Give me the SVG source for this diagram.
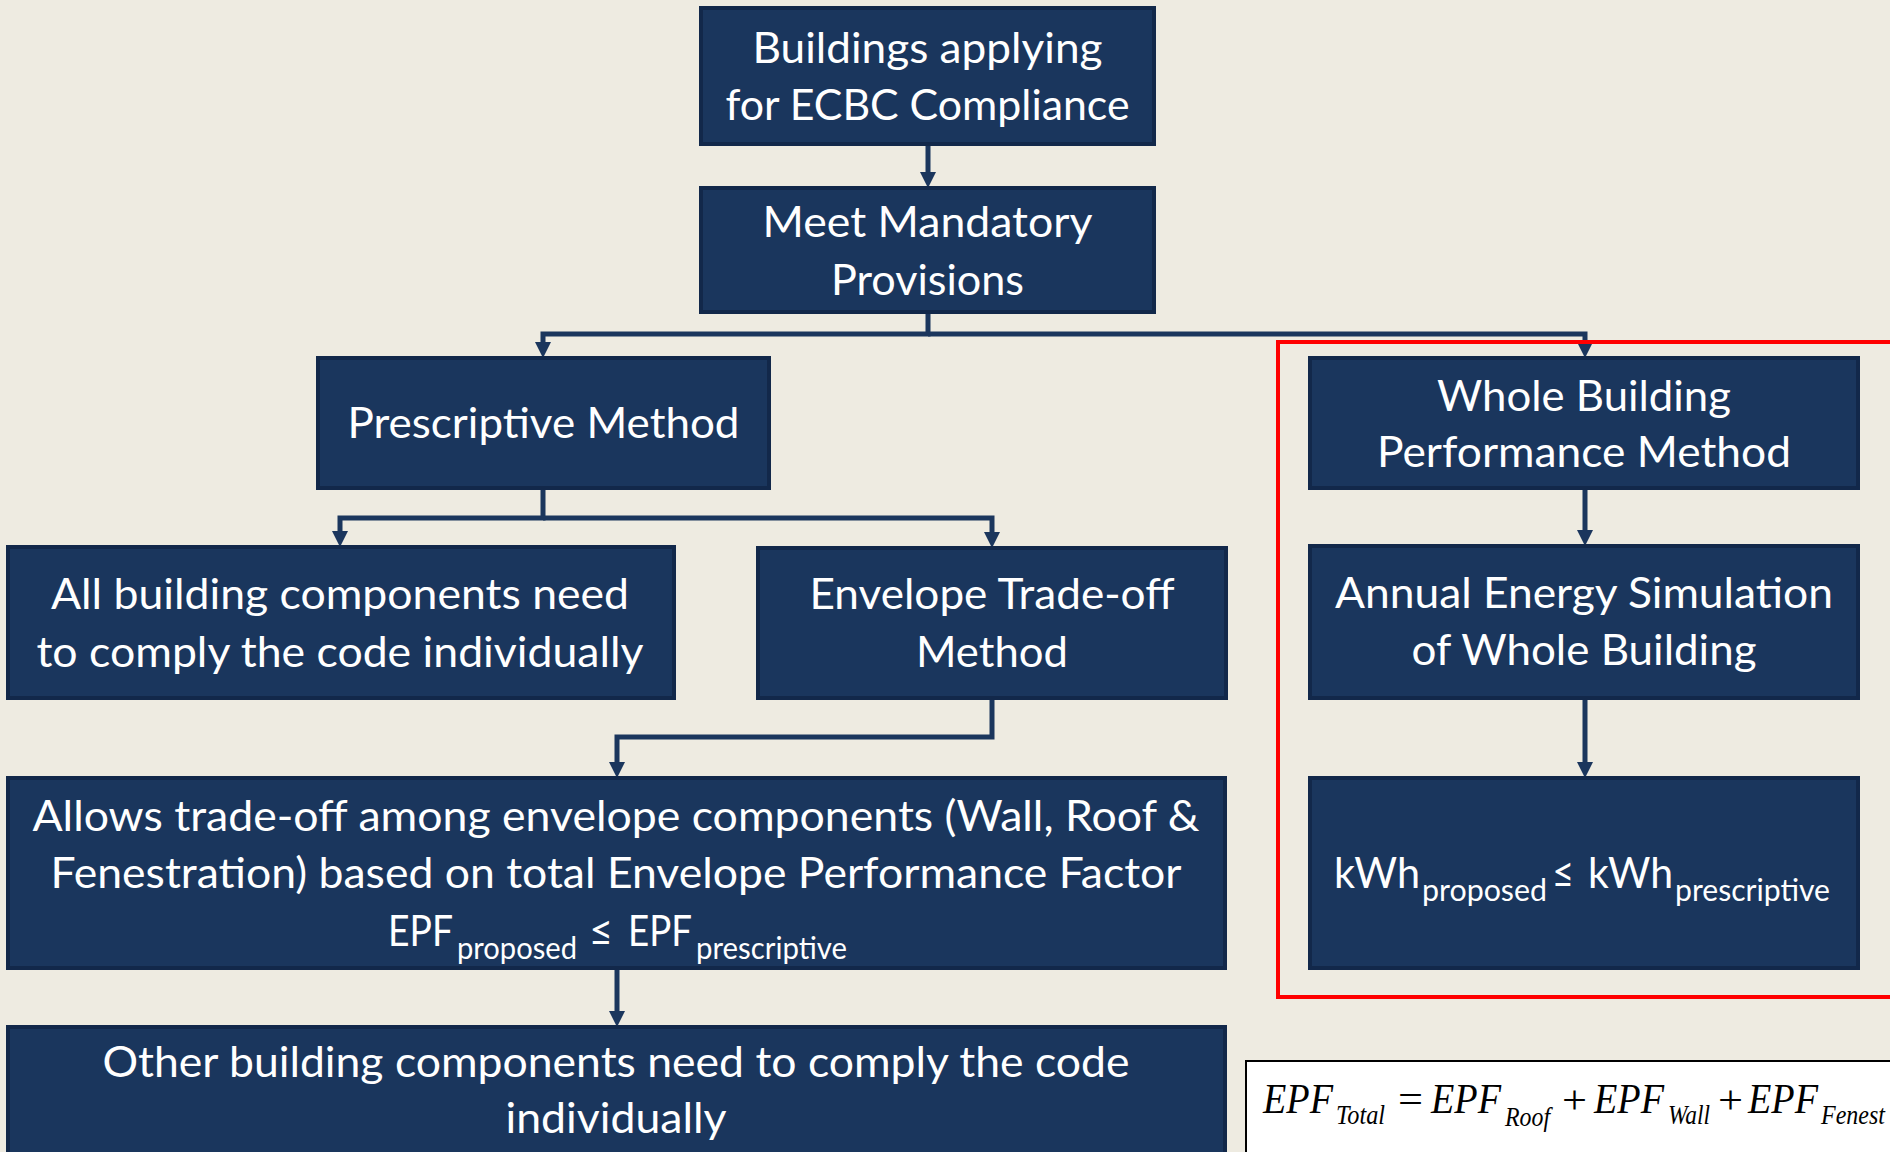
<svg xmlns="http://www.w3.org/2000/svg" width="1890" height="1152" viewBox="0 0 1890 1152">
<defs>
<style>
.box{fill:#1a365d;stroke:#12284a;stroke-width:4}
.t{fill:#ffffff;font-family:Lato,"Open Sans",sans-serif;font-size:43px;text-anchor:middle}
.s{fill:#ffffff;font-family:Lato,"Open Sans",sans-serif;font-size:43px}
.sub{fill:#ffffff;font-family:Lato,"Open Sans",sans-serif;font-size:31px}
.c{fill:none;stroke:#1b365d;stroke-width:5;marker-end:url(#ah)}
.f{font-family:"Liberation Serif","Times New Roman",serif;font-style:italic;font-size:42px;fill:#000}
.fs{font-family:"Liberation Serif","Times New Roman",serif;font-style:italic;font-size:27px;fill:#000}
.fo{font-family:"Liberation Serif","Times New Roman",serif;font-size:40px;fill:#000}
</style>
<marker id="ah" viewBox="0 0 16 16" markerWidth="16" markerHeight="16" markerUnits="userSpaceOnUse" refX="0" refY="8" orient="auto">
<path d="M0,0 L16,8 L0,16 z" fill="#1b365d"/>
</marker>
</defs>
<rect x="0" y="0" width="1890" height="1152" fill="#eeebe1"/>

<g id="connectors">
<path class="c" d="M928,144 L928,172"/>
<path class="c" d="M928,312 L928,334 L543,334 L543,342"/>
<path class="c" d="M928,334 L1585,334 L1585,342"/>
<path class="c" d="M543,488 L543,518 L340,518 L340,531"/>
<path class="c" d="M543,518 L992,518 L992,532"/>
<path class="c" d="M992,698 L992,737 L617,737 L617,762"/>
<path class="c" d="M617,968 L617,1011"/>
<path class="c" d="M1585,488 L1585,530"/>
<path class="c" d="M1585,698 L1585,762"/>
</g>

<g id="n-buildings">
<rect class="box" x="701" y="8" width="453" height="136"/>
<text class="t" x="927.5" y="63" textLength="350" lengthAdjust="spacingAndGlyphs">Buildings applying</text>
<text class="t" x="927.5" y="120" textLength="404" lengthAdjust="spacingAndGlyphs">for ECBC Compliance</text>
</g>
<g id="n-mandatory">
<rect class="box" x="701" y="188" width="453" height="124"/>
<text class="t" x="927.5" y="237" textLength="330" lengthAdjust="spacingAndGlyphs">Meet Mandatory</text>
<text class="t" x="927.5" y="295" textLength="193" lengthAdjust="spacingAndGlyphs">Provisions</text>
</g>
<g id="n-prescriptive">
<rect class="box" x="318" y="358" width="451" height="130"/>
<text class="t" x="543.5" y="438" textLength="392" lengthAdjust="spacingAndGlyphs">Prescriptive Method</text>
</g>
<g id="n-whole">
<rect class="box" x="1310" y="358" width="548" height="130"/>
<text class="t" x="1584" y="411" textLength="294" lengthAdjust="spacingAndGlyphs">Whole Building</text>
<text class="t" x="1584" y="467" textLength="414" lengthAdjust="spacingAndGlyphs">Performance Method</text>
</g>
<g id="n-all">
<rect class="box" x="8" y="547" width="666" height="151"/>
<text class="t" x="340" y="609" textLength="578" lengthAdjust="spacingAndGlyphs">All building components need</text>
<text class="t" x="340" y="667" textLength="607" lengthAdjust="spacingAndGlyphs">to comply the code individually</text>
</g>
<g id="n-envelope">
<rect class="box" x="758" y="548" width="468" height="150"/>
<text class="t" x="992" y="609" textLength="365" lengthAdjust="spacingAndGlyphs">Envelope Trade-off</text>
<text class="t" x="992" y="667" textLength="152" lengthAdjust="spacingAndGlyphs">Method</text>
</g>
<g id="n-annual">
<rect class="box" x="1310" y="546" width="548" height="152"/>
<text class="t" x="1584" y="608" textLength="498" lengthAdjust="spacingAndGlyphs">Annual Energy Simulation</text>
<text class="t" x="1584" y="665" textLength="345" lengthAdjust="spacingAndGlyphs">of Whole Building</text>
</g>
<g id="n-allows">
<rect class="box" x="8" y="778" width="1217" height="190"/>
<text class="t" x="616" y="831" textLength="1167" lengthAdjust="spacingAndGlyphs">Allows trade-off among envelope components (Wall, Roof &amp;</text>
<text class="t" x="616" y="888" textLength="1131" lengthAdjust="spacingAndGlyphs">Fenestration) based on total Envelope Performance Factor</text>
<text class="s" x="388" y="946" textLength="65" lengthAdjust="spacingAndGlyphs">EPF</text>
<text class="sub" x="457" y="959" textLength="120" lengthAdjust="spacingAndGlyphs">proposed</text>
<text class="s" x="589" y="946" textLength="24" lengthAdjust="spacingAndGlyphs">≤</text>
<text class="s" x="628" y="946" textLength="64" lengthAdjust="spacingAndGlyphs">EPF</text>
<text class="sub" x="696" y="959" textLength="151" lengthAdjust="spacingAndGlyphs">prescriptive</text>
</g>
<g id="n-kwh">
<rect class="box" x="1310" y="778" width="548" height="190"/>
<text class="s" x="1334" y="888" textLength="86" lengthAdjust="spacingAndGlyphs">kWh</text>
<text class="sub" x="1422" y="901" textLength="125" lengthAdjust="spacingAndGlyphs">proposed</text>
<text class="s" x="1552" y="888" textLength="22" lengthAdjust="spacingAndGlyphs">≤</text>
<text class="s" x="1588" y="888" textLength="85" lengthAdjust="spacingAndGlyphs">kWh</text>
<text class="sub" x="1675" y="901" textLength="155" lengthAdjust="spacingAndGlyphs">prescriptive</text>
</g>
<g id="n-other">
<rect class="box" x="8" y="1027" width="1217" height="180"/>
<text class="t" x="616" y="1077" textLength="1027" lengthAdjust="spacingAndGlyphs">Other building components need to comply the code</text>
<text class="t" x="616" y="1133" textLength="221" lengthAdjust="spacingAndGlyphs">individually</text>
</g>

<g id="highlight">
<path d="M1900,342 L1278,342 L1278,997 L1900,997" fill="none" stroke="#ff0000" stroke-width="4"/>
</g>

<g id="n-formula">
<rect x="1246" y="1061" width="700" height="150" fill="#ffffff" stroke="#000000" stroke-width="2"/>
<text class="f" x="1263" y="1113" textLength="70" lengthAdjust="spacingAndGlyphs">EPF</text>
<text class="fs" x="1336" y="1124" textLength="49" lengthAdjust="spacingAndGlyphs">Total</text>
<text class="fo" x="1398" y="1113" textLength="25" lengthAdjust="spacingAndGlyphs">=</text>
<text class="f" x="1431" y="1113" textLength="70" lengthAdjust="spacingAndGlyphs">EPF</text>
<text class="fs" x="1505" y="1126" textLength="45" lengthAdjust="spacingAndGlyphs">Roof</text>
<text class="fo" x="1562" y="1113" textLength="25" lengthAdjust="spacingAndGlyphs">+</text>
<text class="f" x="1594" y="1113" textLength="70" lengthAdjust="spacingAndGlyphs">EPF</text>
<text class="fs" x="1668" y="1124" textLength="42" lengthAdjust="spacingAndGlyphs">Wall</text>
<text class="fo" x="1718" y="1113" textLength="25" lengthAdjust="spacingAndGlyphs">+</text>
<text class="f" x="1748" y="1113" textLength="70" lengthAdjust="spacingAndGlyphs">EPF</text>
<text class="fs" x="1821" y="1124" textLength="64" lengthAdjust="spacingAndGlyphs">Fenest</text>
</g>
</svg>
